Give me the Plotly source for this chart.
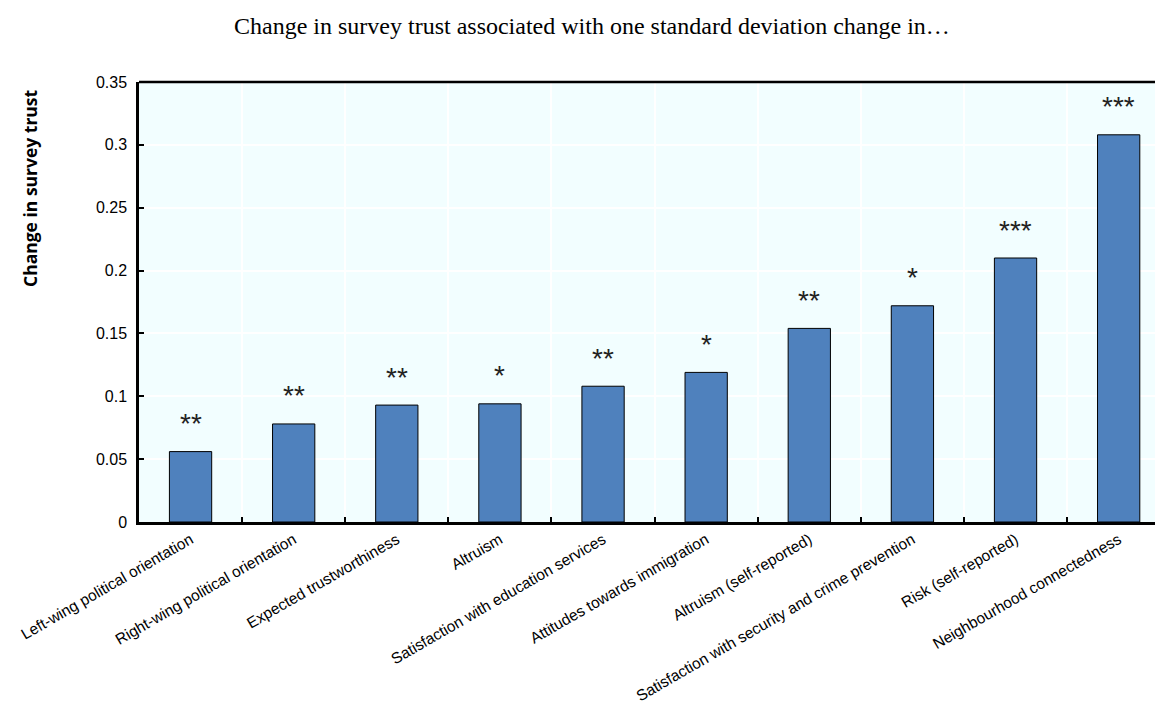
import plotly.graph_objects as go

categories = [
    "Left-wing political orientation",
    "Right-wing political orientation",
    "Expected trustworthiness",
    "Altruism",
    "Satisfaction with education services",
    "Attitudes towards immigration",
    "Altruism (self-reported)",
    "Satisfaction with security and crime prevention",
    "Risk (self-reported)",
    "Neighbourhood connectedness",
]
values = [0.056, 0.078, 0.093, 0.094, 0.108, 0.119, 0.154, 0.172, 0.210, 0.308]
stars = ["**", "**", "**", "*", "**", "*", "**", "*", "***", "***"]
y_ticks = [0, 0.05, 0.1, 0.15, 0.2, 0.25, 0.3, 0.35]
y_ticktext = ["0", "0.05", "0.1", "0.15", "0.2", "0.25", "0.3", "0.35"]

# page has an 8px body margin; figure is sized to fit the window
W, H = 1155, 703
ml, mr, mt, mb = 131, 0, 74, 189
PW, PH = W - ml - mr, H - mt - mb

fig = go.Figure()
fig.add_trace(go.Bar(
    x=categories, y=values,
    marker=dict(color="#4F81BD", line=dict(color="#000000", width=1)),
    width=0.41,
    hoverinfo="x+y",
))

for c, v, s in zip(categories, values, stars):
    fig.add_annotation(
        x=c, y=v, xref="x", yref="y",
        text=s,
        showarrow=False,
        yanchor="middle", yshift=28,
        font=dict(family="Liberation Sans, Arial", size=28, color="#222222"),
    )

# Title
fig.add_annotation(
    xref="paper", yref="paper",
    x=(584 - ml) / PW, y=1 + (mt - 18) / PH,
    xanchor="center", yanchor="middle",
    text="Change in survey trust associated with one standard deviation change in\u2026",
    showarrow=False,
    font=dict(family="Liberation Serif, Times New Roman", size=24, color="#000000"),
)
# Y axis title
fig.add_annotation(
    xref="paper", yref="paper",
    x=(22 - ml) / PW, y=(514 - 180) / PH,
    xanchor="center", yanchor="middle",
    text="<b>Change in survey trust</b>",
    textangle=-90,
    showarrow=False,
    font=dict(family="Open Sans, Noto Sans", size=17.5, color="#000000"),
)

fig.update_layout(
    width=W, height=H,
    margin=dict(l=ml, r=mr, t=mt, b=mb, pad=0, autoexpand=False),
    paper_bgcolor="#FFFFFF",
    plot_bgcolor="#F2FEFF",
    showlegend=False,
    bargap=0.59,
)
fig.update_xaxes(
    type="category",
    range=[-0.5, 9.43],
    tickson="boundaries",
    showgrid=True, gridcolor="#FFFFFF", gridwidth=1.5,
    ticks="inside", ticklen=5, tickcolor="#000000", tickwidth=1.5,
    showline=True, linecolor="#000000", linewidth=2.5,
    tickangle=-30,
    tickfont=dict(family="Liberation Sans, Arial", size=15.5, color="#000000"),
    automargin=False,
    fixedrange=True,
)
fig.update_yaxes(
    range=[0, 0.35],
    tickvals=y_ticks, ticktext=y_ticktext,
    showgrid=True, gridcolor="#FFFFFF", gridwidth=1.5,
    ticks="inside", ticklen=5, tickcolor="#000000", tickwidth=1.5,
    showline=True, linecolor="#000000", linewidth=2.5,
    tickfont=dict(family="Liberation Sans, Arial", size=16, color="#000000"),
    ticklabelstandoff=6,
    zeroline=False,
    automargin=False,
    fixedrange=True,
)
# top border line of plot area
fig.add_shape(type="line", xref="paper", yref="paper", x0=0, x1=1, y0=1, y1=1,
              line=dict(color="#000000", width=2.5))

fig.write_html("out.html")
